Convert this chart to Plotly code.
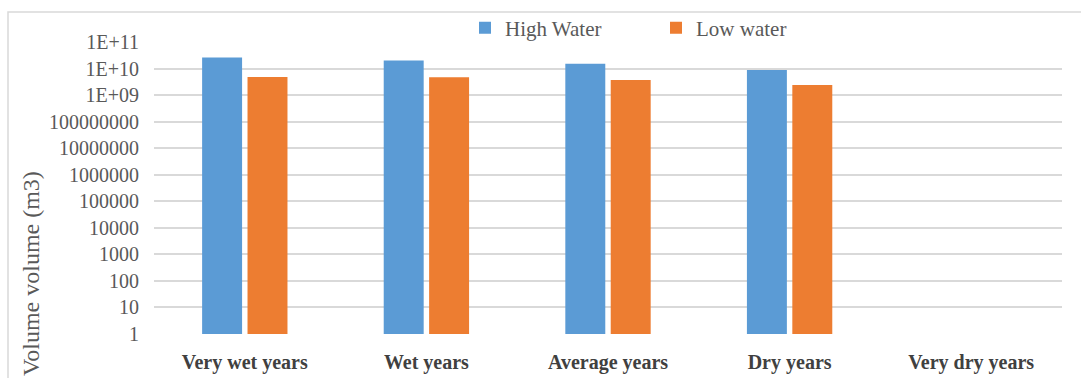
import plotly.graph_objects as go

categories = ["Very wet years", "Wet years", "Average years", "Dry years", "Very dry years"]
high_water = [2.6e10, 2.0e10, 1.5e10, 8.8e9, None]
low_water = [4.8e9, 4.7e9, 3.7e9, 2.4e9, None]
tick_vals = [1, 10, 100, 1000, 10000, 100000, 1000000, 10000000, 100000000, 1e9, 1e10, 1e11]
tick_text = ["1", "10", "100", "1000", "10000", "100000", "1000000", "10000000",
             "100000000", "1E+09", "1E+10", "1E+11"]

FONT = "Liberation Serif"
W, H = 1081, 378
L, R, T, B = 154, 19, 42, 44
pw, ph = W - L - R, H - T - B

def px_x(x):
    return (x - L) / pw

def px_y(y):
    return (H - B - y) / ph

fig = go.Figure()
fig.add_trace(go.Bar(x=categories, y=high_water, name="High Water",
                     marker=dict(color="#5B9BD5", line=dict(width=0))))
fig.add_trace(go.Bar(x=categories, y=low_water, name="Low water",
                     marker=dict(color="#ED7D31", line=dict(width=0))))

fig.update_layout(
    width=W, height=H,
    margin=dict(l=L, r=R, t=T, b=B, autoexpand=False),
    paper_bgcolor="white", plot_bgcolor="white",
    barmode="group", bargap=0.5, bargroupgap=0.12,
    font=dict(family=FONT, color="#595959"),
    showlegend=True,
    legend=dict(orientation="h", xref="container", yref="container",
                x=465 / W, xanchor="left", y=1 - 28 / H, yanchor="middle",
                font=dict(size=21, color="#595959", family=FONT),
                bgcolor="rgba(0,0,0,0)", entrywidth=146, entrywidthmode="pixels",
                traceorder="normal"),
    xaxis=dict(showgrid=False, showline=False, ticks="", zeroline=False, automargin=False,
               tickfont=dict(size=20, color="#404040", family=FONT, weight="bold"),
               ticklabelstandoff=14),
    yaxis=dict(type="log", range=[0, 11], tickvals=tick_vals, ticktext=tick_text,
               showgrid=True, gridcolor="#d9d9d9", gridwidth=1.5, zeroline=False,
               showline=False, ticks="", automargin=False,
               tickfont=dict(size=20, color="#595959", family=FONT),
               ticklabelstandoff=14),
    shapes=[dict(type="rect", xref="paper", yref="paper",
                 x0=px_x(8), x1=px_x(1100), y0=px_y(400), y1=px_y(12),
                 line=dict(color="#d9d9d9", width=1.5), fillcolor="rgba(0,0,0,0)", layer="below")],
    annotations=[dict(text="Volume volume (m3)", xref="paper", yref="paper",
                      x=px_x(31), y=px_y(274), xanchor="center", yanchor="middle",
                      textangle=-90, showarrow=False,
                      font=dict(size=24, color="#595959", family=FONT))],
)

fig.write_html("out.html", config={"displayModeBar": False},
               post_script="document.body.style.margin='0';document.body.style.padding='0';document.body.style.overflow='hidden';")
